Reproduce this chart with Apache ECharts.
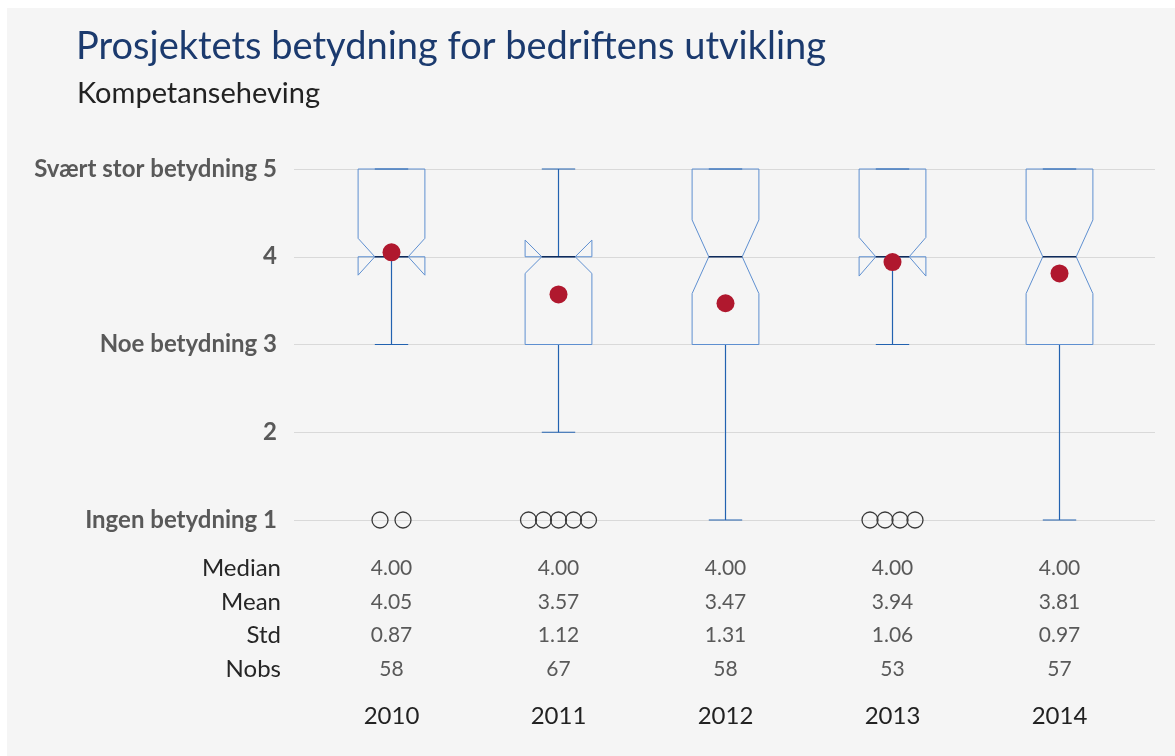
<!DOCTYPE html>
<html>
<head>
<meta charset="utf-8">
<script src="https://cdn.jsdelivr.net/npm/echarts@6/dist/echarts.min.js"></script>
<style>
  html, body { margin: 0; padding: 0; background: #ffffff; }
  #bg { position: absolute; left: 7px; top: 8px; right: 0; bottom: 0; background: #f5f5f5; }
  #chart { position: absolute; left: 0; top: 0; width: 1175px; height: 756px; }
</style>
</head>
<body>
<div id="bg"></div>
<div id="chart"></div>
<script>
const categories = ['2010', '2011', '2012', '2013', '2014'];
const q1 = [4, 3, 3, 4, 3];
const median = [4, 4, 4, 4, 4];
const q3 = [5, 4, 5, 5, 5];
const whiskerLow = [3, 2, 1, 3, 1];
const whiskerHigh = [5, 5, 5, 5, 5];
const notchLow = [3.79, 3.81, 3.58, 3.78, 3.58];
const notchHigh = [4.21, 4.19, 4.42, 4.22, 4.42];
const means = [4.05, 3.57, 3.47, 3.94, 3.81];
const stds = [0.87, 1.12, 1.31, 1.06, 0.97];
const nobs = [58, 67, 58, 53, 57];
const outlierValue = [1, 1, null, 1, null];
const outlierCount = [2, 5, 0, 4, 0];
const yTickLabels = ['Ingen betydning 1', '2', 'Noe betydning 3', '4', 'Svært stor betydning 5'];
const statLabels = ['Median', 'Mean', 'Std', 'Nobs'];

const FONT = 'Lato';
const boxData = categories.map((c, i) => [i, q1[i], median[i], q3[i], whiskerLow[i], whiskerHigh[i], notchLow[i], notchHigh[i]]);
const meanData = categories.map((c, i) => [i, means[i]]);
const outlierData = categories.map((c, i) => [i, outlierValue[i], outlierCount[i]]).filter(d => d[2] > 0);

const chart = echarts.init(document.getElementById('chart'), null, { renderer: 'canvas' });

function renderBox(params, api) {
  const idx = api.value(0);
  const band = api.size([1, 0])[0];
  const hw = band * 0.2, nw = band * 0.1, cw = band * 0.1;
  const x = api.coord([idx, 0])[0];
  const y = v => api.coord([idx, v])[1];
  const vq1 = api.value(1), vmed = api.value(2), vq3 = api.value(3);
  const vlo = api.value(4), vhi = api.value(5), nlo = api.value(6), nhi = api.value(7);
  const L = x - hw, R = x + hw;
  const pts = [
    [L, y(vq1)], [L, y(nlo)], [x - nw, y(vmed)], [L, y(nhi)], [L, y(vq3)],
    [R, y(vq3)], [R, y(nhi)], [x + nw, y(vmed)], [R, y(nlo)], [R, y(vq1)]
  ];
  const whiskerStyle = { stroke: '#2262b0', lineWidth: 1.2 };
  return {
    type: 'group',
    children: [
      { type: 'line', shape: { x1: x, y1: y(Math.min(vq1, vmed)), x2: x, y2: y(vlo) }, style: whiskerStyle },
      { type: 'line', shape: { x1: x, y1: y(Math.max(vq3, vmed)), x2: x, y2: y(vhi) }, style: whiskerStyle },
      { type: 'polygon', shape: { points: pts }, style: { fill: 'none', stroke: '#5e8fd0', lineWidth: 1 } },
      { type: 'line', shape: { x1: x - cw, y1: y(vlo), x2: x + cw, y2: y(vlo) }, style: whiskerStyle },
      { type: 'line', shape: { x1: x - cw, y1: y(vhi), x2: x + cw, y2: y(vhi) }, style: whiskerStyle },
      { type: 'line', shape: { x1: x - nw, y1: y(vmed), x2: x + nw, y2: y(vmed) }, style: { stroke: '#0e2b5c', lineWidth: 1.5 } }
    ]
  };
}

function renderOutliers(params, api) {
  const idx = api.value(0);
  const n = api.value(2);
  const p = api.coord([idx, api.value(1)]);
  const r = 8, step = n > 2 ? 15 : 23;
  const children = [];
  for (let k = 0; k < n; k++) {
    children.push({
      type: 'circle',
      shape: { cx: p[0] + (k - (n - 1) / 2) * step, cy: p[1], r: r },
      style: { fill: 'none', stroke: '#3a3a3a', lineWidth: 1.3 }
    });
  }
  return { type: 'group', children: children };
}

const option = {
  backgroundColor: 'transparent',
  animation: false,
  title: [
    {
      text: 'Prosjektets betydning for bedriftens utvikling',
      left: 76, top: 28, padding: 0,
      textStyle: { fontFamily: FONT, fontSize: 38, fontWeight: 'normal', color: '#1b3a6e' }
    },
    {
      text: 'Kompetanseheving',
      left: 77, top: 79, padding: 0,
      textStyle: { fontFamily: FONT, fontSize: 29, fontWeight: 'normal', color: '#222222' }
    }
  ],
  graphic: [
    {
      type: 'text', x: 281, y: 552,
      style: {
        text: statLabels.join('\n'),
        fontFamily: FONT, fontSize: 24, fill: '#262626',
        lineHeight: 33.4, align: 'right', verticalAlign: 'top'
      }
    }
  ],
  grid: [
    { left: 308, right: 32, top: 169, bottom: 236 },
    { left: 294, right: 20, top: 169, bottom: 236 }
  ],
  xAxis: [
    {
      gridIndex: 0, type: 'category', data: categories, boundaryGap: true,
      axisLine: { show: false }, axisTick: { show: false }, splitLine: { show: false },
      axisLabel: {
        margin: 32, interval: 0,
        formatter: (val, i) => `{v|${median[i].toFixed(2)}}\n{v|${means[i].toFixed(2)}}\n{v|${stds[i].toFixed(2)}}\n{v|${nobs[i]}}\n{y|${val}}`,
        rich: {
          v: { fontFamily: FONT, fontSize: 21, color: '#595959', lineHeight: 33.4 },
          y: { fontFamily: FONT, fontSize: 24, color: '#222222', lineHeight: 62 }
        }
      }
    },
    { gridIndex: 1, type: 'value', show: false, min: 0, max: 1 }
  ],
  yAxis: [
    {
      gridIndex: 0, type: 'value', min: 1, max: 5, interval: 1, show: false
    },
    {
      gridIndex: 1, type: 'value', min: 1, max: 5, interval: 1,
      axisLine: { show: false }, axisTick: { show: false },
      splitLine: { show: true, lineStyle: { color: '#d9d9d9', width: 1 } },
      axisLabel: {
        margin: 17, fontFamily: FONT, fontSize: 24, fontWeight: 'bold', color: '#595959',
        formatter: v => yTickLabels[v - 1]
      }
    }
  ],
  series: [
    {
      type: 'custom', xAxisIndex: 0, yAxisIndex: 0, renderItem: renderBox,
      data: boxData, encode: { x: 0, y: [1, 2, 3, 4, 5, 6, 7] }, clip: false, z: 3
    },
    {
      type: 'custom', xAxisIndex: 0, yAxisIndex: 0, renderItem: renderOutliers,
      data: outlierData, encode: { x: 0, y: 1 }, clip: false, z: 3
    },
    {
      type: 'scatter', xAxisIndex: 0, yAxisIndex: 0, data: meanData,
      symbol: 'circle', symbolSize: 18, itemStyle: { color: '#b0182e', opacity: 1 }, z: 5, clip: false
    }
  ]
};
chart.setOption(option);
</script>
</body>
</html>
